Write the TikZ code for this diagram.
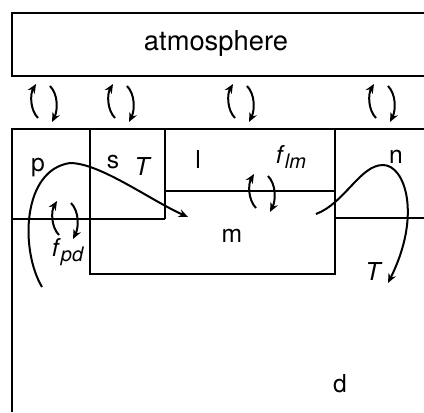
\documentclass[tikz,border=0pt]{standalone}
\usepackage{fontspec}
\setmainfont{TeX Gyre Heros}
\usetikzlibrary{arrows.meta}

\newcommand{\subtxt}[1]{\raisebox{-0.45ex}{\fontsize{15}{16}\selectfont\textit{#1}}}

\begin{document}
\begin{tikzpicture}[x=0.75pt,y=-0.75pt,line width=1.5pt,
  lbl/.style={anchor=base,inner sep=0pt,font=\fontsize{18.5}{20}\selectfont},
  arr/.style={-{Stealth[length=7pt,width=6pt]}},
  exch/.pic={
    \draw[arr] (-6,16) .. controls (-14,8) and (-14,-8) .. (-8,-18);
    \draw[arr] (6,-16) .. controls (14,-8) and (14,8) .. (8,20);
  }]
\useasboundingbox (0,0) rectangle (424,412);
% atmosphere
\draw (424,13) -- (12,13) -- (12,76) -- (424,76);
\node[lbl,font=\fontsize{20.5}{22}\selectfont] (atm) at (216,50) {atmosphere};
% exchange with the atmosphere
\pic at (44,102) {exch};
\pic at (121,102) {exch};
\pic at (241,102) {exch};
\pic at (382,102) {exch};
% compartments
\draw (424,129) -- (12,129) -- (12,412);
\draw (90,129) -- (90,274) -- (335,274) -- (335,129);
\draw (165,129) -- (165,219);
\draw (12,219) -- (165,219);
\draw (165,191) -- (335,191);
\draw (335,218) -- (424,218);
\node[lbl] (lp) at (38,171) {p};
\node[lbl] (ls) at (113,168) {s};
\node[lbl] (lTa) at (143,175) {\textit{T}};
\node[lbl] (ll) at (198,168) {l};
\node[lbl] (lflm) at (291,163) {\textit{f}\subtxt{lm}};
\node[lbl] (ln) at (396,163) {n};
\node[lbl] (lm) at (232,242) {m};
\node[lbl] (lfpd) at (68,256) {\textit{f}\subtxt{pd}};
\node[lbl] (lTb) at (374,280) {\textit{T}};
\node[lbl] (ld) at (340,392) {d};
% internal exchange
\pic at (65,219) {exch};
\pic at (262,192) {exch};
% transport
\coordinate (pstart) at (42,287);
\coordinate (ptop) at (70,163);
\coordinate (mtip) at (188,217);
\draw[arr] (pstart) .. controls (20,250) and (22,170) .. (ptop)
  .. controls (100,163) and (150,200) .. (mtip);
\coordinate (mstart) at (316,214);
\coordinate (ntop) at (383,165);
\coordinate (dtip) at (388,283);
\draw[arr] (mstart) .. controls (345,203) and (360,165) .. (ntop)
  .. controls (405,165) and (422,215) .. (dtip);
\end{tikzpicture}
\end{document}
